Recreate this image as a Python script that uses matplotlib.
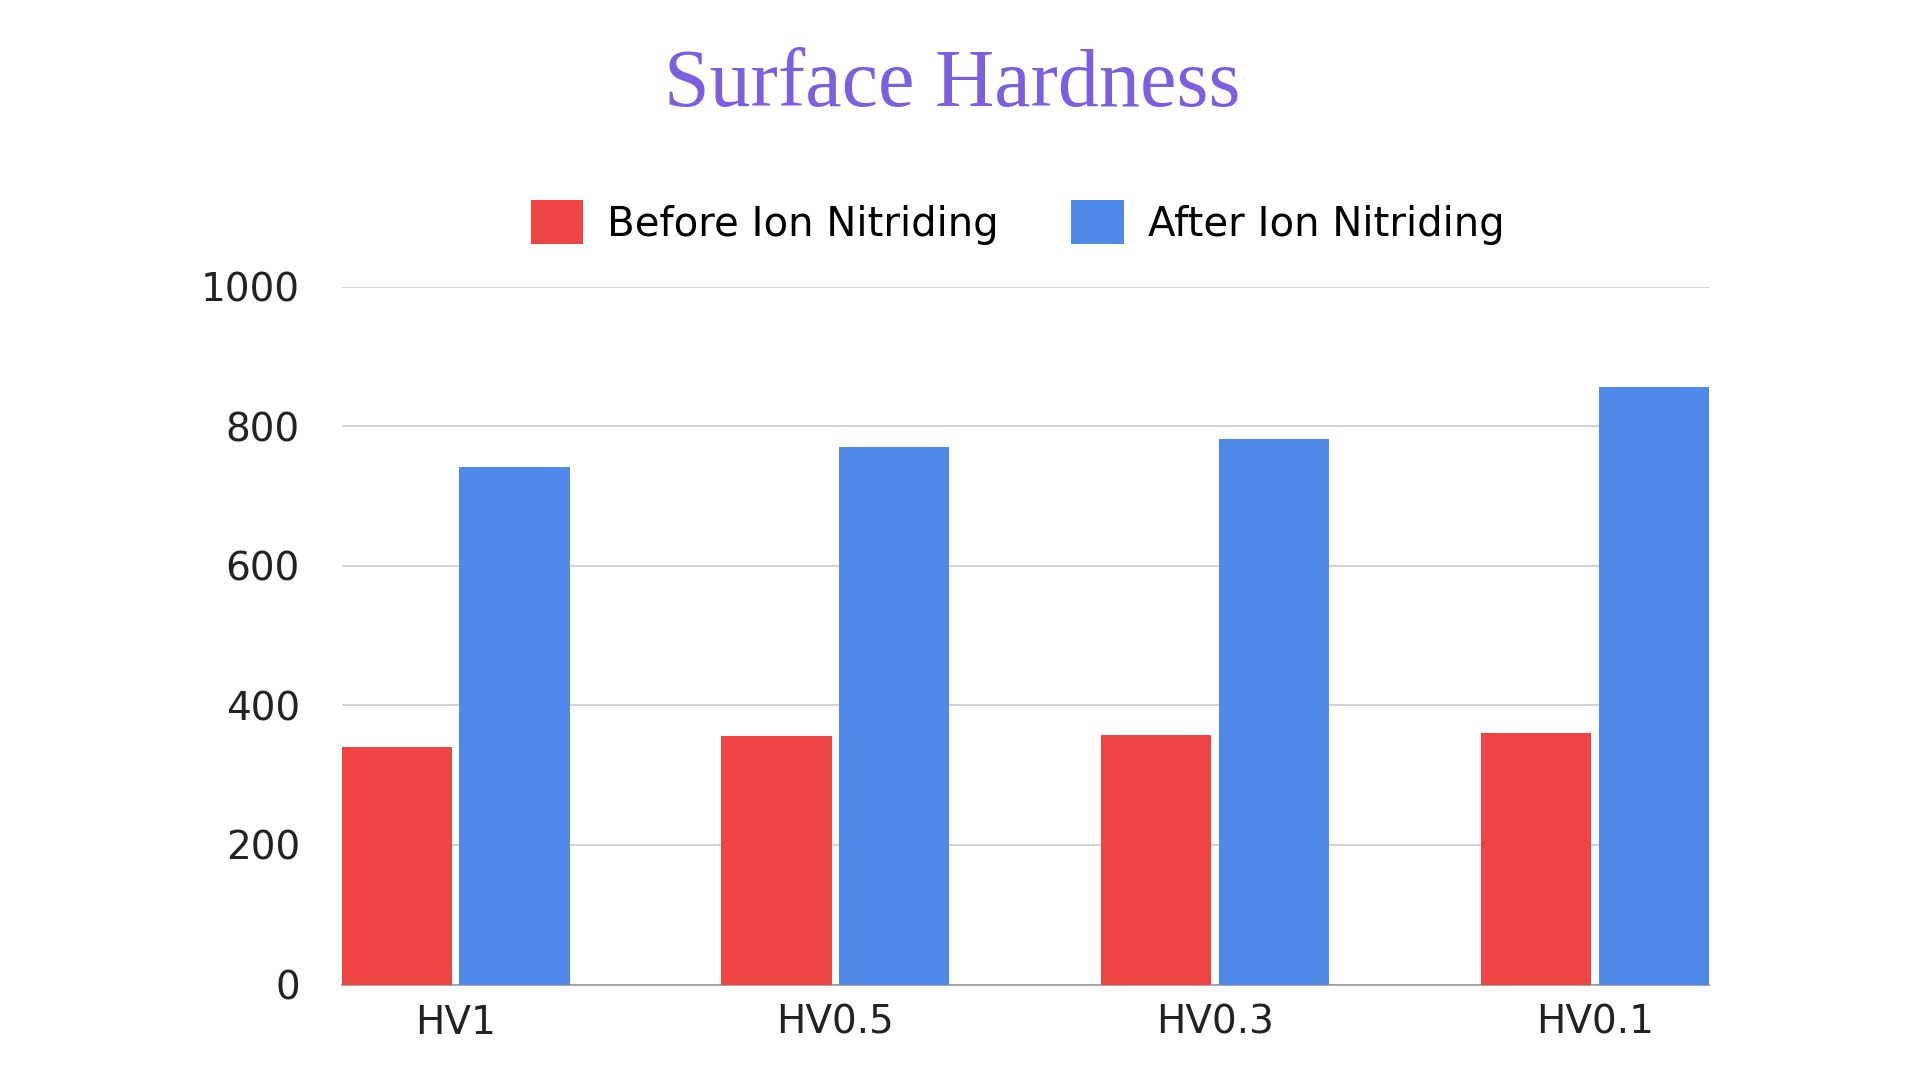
import numpy as np
import matplotlib.pyplot as plt

# data
categories = ['HV1', 'HV0.5', 'HV0.3', 'HV0.1']
before = [340, 356, 358, 360]
after = [742, 770, 782, 856]
yticks = [0, 200, 400, 600, 800, 1000]

red = '#ee4444'
blue = '#5089e8'

f = plt.figure(figsize=(19.2, 10.8), dpi=100)
ax = f.add_axes([0.178, 0.0884, 0.712, 0.6463])

x = np.arange(len(categories))
w = 0.29
ax.bar(x - w/2 - 0.01, before, width=w, color=red, label='Before Ion Nitriding', zorder=3)
ax.bar(x + w/2 + 0.01, after, width=w, color=blue, label='After Ion Nitriding', zorder=3)

ax.set_xlim(-0.3, 3.3)
ax.set_ylim(0, 1000)
ax.set_yticks(yticks)
ax.set_xticks(x)
ax.set_xticklabels(categories)
ax.tick_params(axis='both', length=0, labelsize=28, colors='#222222', pad=14)
ax.tick_params(axis='y', pad=30)
ax.yaxis.grid(color='#cccccc', linewidth=1.2)
ax.set_axisbelow(True)
for s in ['top', 'right', 'left']:
    ax.spines[s].set_visible(False)
ax.spines['bottom'].set_color('#999999')
ax.spines['bottom'].set_linewidth(1.2)

f.text(0.496, 0.92, 'Surface Hardness', ha='center', va='center',
       fontsize=59, color='#7b5fe0', family='Liberation Serif')

f.legend(loc='center', bbox_to_anchor=(0.53, 0.794), ncol=2, frameon=False,
         fontsize=29, handlelength=1.3, handleheight=1.3, handletextpad=0.6,
         columnspacing=1.8)

f.savefig('out.png', dpi=100, facecolor='white')
